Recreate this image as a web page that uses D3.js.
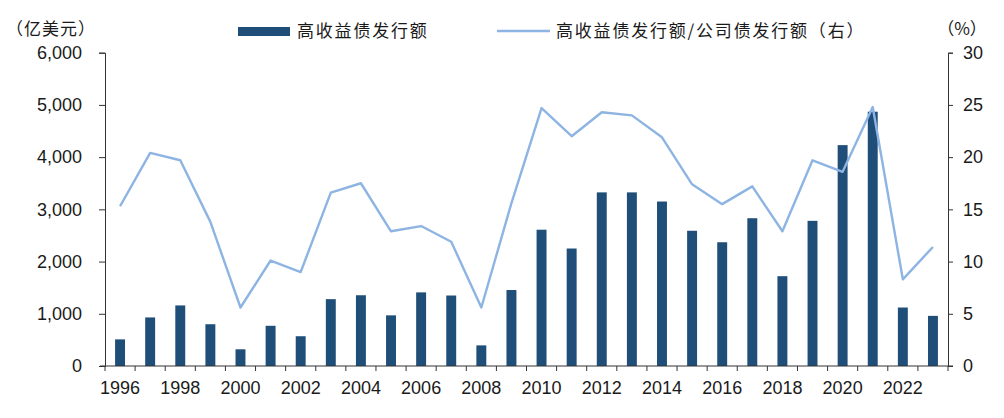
<!DOCTYPE html>
<html>
<head>
<meta charset="utf-8">
<script src="https://cdn.jsdelivr.net/npm/d3@7"></script>
<style>
  html, body { margin: 0; padding: 0; background: #fff; }
  svg { display: block; }
  .num { font-family: "Liberation Sans", Arial, sans-serif; font-size: 18px; fill: #1a1a1a; }
  .cjk { font-family: "Noto Sans CJK SC", sans-serif; font-size: 17px; fill: #1a1a1a; }
</style>
</head>
<body>
<svg id="chart" width="1004" height="418"></svg>
<script>
const years = [1996,1997,1998,1999,2000,2001,2002,2003,2004,2005,2006,2007,2008,2009,2010,2011,2012,2013,2014,2015,2016,2017,2018,2019,2020,2021,2022,2023];
const issuance = [510,930,1160,800,320,770,570,1280,1355,970,1410,1350,395,1455,2610,2250,3325,3325,3150,2590,2370,2830,1720,2780,4230,4870,1120,960];
const ratio = [15.3,20.4,19.7,13.8,5.6,10.1,9.0,16.6,17.5,12.9,13.4,11.9,5.6,15.6,24.7,22.0,24.3,24.0,21.9,17.4,15.5,17.2,12.9,19.7,18.6,24.8,8.3,11.4];
const leftTicks = [0,1000,2000,3000,4000,5000,6000];
const rightTicks = [0,5,10,15,20,25,30];
const yearLabels = [1996,1998,2000,2002,2004,2006,2008,2010,2012,2014,2016,2018,2020,2022];
const barName = "高收益债发行额";
const lineName = "高收益债发行额/公司债发行额（右）";
const leftUnit = "（亿美元）";
const rightUnit = "（%）";

const barColor = "#1f4e79";
const lineColor = "#8db4e2";
const axisColor = "#333";

const svg = d3.select("#chart");
const L = 105, R = 948, T = 52.7, B = 366;

const x = d3.scaleBand().domain(years).range([L, R]).padding(0);
const yL = d3.scaleLinear().domain([0, 6000]).range([B, T]);
const yR = d3.scaleLinear().domain([0, 30]).range([B, T]);

// bars
svg.append("g").selectAll("rect").data(years).join("rect")
  .attr("x", (d) => x(d) + x.bandwidth() * 0.335)
  .attr("width", x.bandwidth() * 0.33)
  .attr("y", (d, i) => yL(issuance[i]))
  .attr("height", (d, i) => B - yL(issuance[i]))
  .attr("fill", barColor);

// line
const line = d3.line()
  .x((d, i) => x(years[i]) + x.bandwidth() / 2)
  .y((d) => yR(d));
svg.append("path").datum(ratio)
  .attr("d", line)
  .attr("fill", "none")
  .attr("stroke", lineColor)
  .attr("stroke-width", 2.4)
  .attr("stroke-linejoin", "round");

// left axis
const gL = svg.append("g").attr("transform", `translate(${L},0)`)
  .call(d3.axisLeft(yL).tickValues(leftTicks).tickSize(6).tickPadding(17).tickFormat(d3.format(",")));
gL.selectAll("text").attr("class", "num").attr("fill", null);
gL.selectAll("line, path").attr("stroke", axisColor);

// right axis
const gR = svg.append("g").attr("transform", `translate(${R},0)`)
  .call(d3.axisRight(yR).tickValues(rightTicks).tickSize(5).tickPadding(10));
gR.selectAll("text").attr("class", "num").attr("fill", null);
gR.selectAll("line, path").attr("stroke", axisColor);

// bottom axis
const gB = svg.append("g");
gB.append("line").attr("x1", L - 5).attr("x2", R + 5).attr("y1", B).attr("y2", B)
  .attr("stroke", axisColor);
const bounds = years.map((d) => x(d)).concat([R]);
gB.selectAll("line.tk").data(bounds).join("line").attr("class", "tk")
  .attr("x1", (d) => d).attr("x2", (d) => d)
  .attr("y1", B).attr("y2", B + 5).attr("stroke", axisColor);
gB.selectAll("text").data(yearLabels).join("text")
  .attr("class", "num")
  .attr("x", (d) => x(d) + x.bandwidth() / 2)
  .attr("y", 394)
  .attr("text-anchor", "middle")
  .text((d) => d);

// units
svg.append("text").attr("class", "cjk").attr("x", 6).attr("y", 35).attr("letter-spacing", 1).text(leftUnit);
svg.append("text").attr("class", "cjk").attr("x", 962).attr("y", 35)
  .attr("text-anchor", "middle").text(rightUnit);

// legend
svg.append("rect").attr("x", 238).attr("y", 27).attr("width", 52).attr("height", 9).attr("fill", barColor);
svg.append("text").attr("class", "cjk").attr("x", 297).attr("y", 37).attr("letter-spacing", 1.8).text(barName);
svg.append("line").attr("x1", 497).attr("x2", 550).attr("y1", 31).attr("y2", 31)
  .attr("stroke", lineColor).attr("stroke-width", 2.4);
svg.append("text").attr("class", "cjk").attr("x", 556).attr("y", 37).attr("letter-spacing", 1.8).text(lineName);
</script>
</body>
</html>
